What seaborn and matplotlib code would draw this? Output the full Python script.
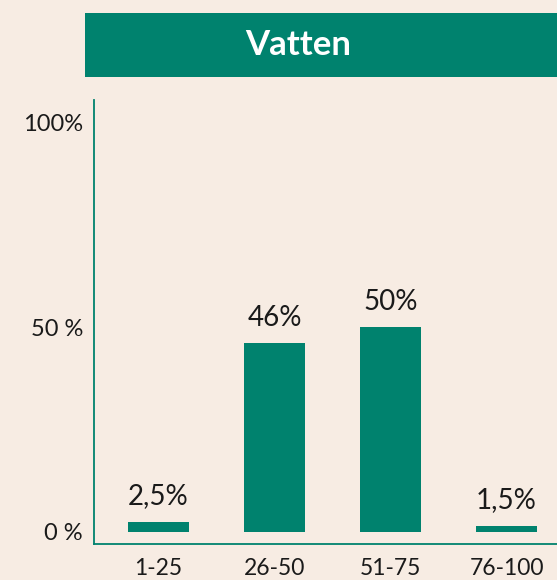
import numpy as np
import pandas as pd
import matplotlib
matplotlib.use("Agg")
import matplotlib.pyplot as plt
import seaborn as sns
from matplotlib.patches import Rectangle

BG = "#F7ECE3"
GREEN = "#00826E"
TEXT = "#1A1A1A"

TITLE = "Vatten"
categories = ["1-25", "26-50", "51-75", "76-100"]
shares = [2.5, 46, 50, 1.5]
ytick_values = [0, 50, 100]
ytick_labels = ["0 %", "50 %", "100%"]

df = pd.DataFrame({"range": categories, "share": shares})

sns.set_theme(style="white")
plt.rcParams["font.family"] = ["Lato", "DejaVu Sans"]

fig = plt.figure(figsize=(5.57, 5.80), dpi=100, facecolor=BG)
W, H = 557, 580

# axes placed in pixel terms of the reference
ax = fig.add_axes([94 / W, 36 / H, (W - 94) / W, 444 / H])
ax.set_facecolor(BG)

sns.barplot(data=df, x="range", y="share", color=GREEN, saturation=1,
            width=0.526, linewidth=0, ax=ax)

ax.set_xlim(-0.556, 3.435)
ax.set_ylim(-2.93, 105.4)

labels = [f"{v:g}".replace(".", ",") + "%" for v in shares]
ax.bar_label(ax.containers[0], labels=labels, padding=9,
             fontsize=20, color=TEXT)

ax.set_yticks(ytick_values)
ax.set_yticklabels(ytick_labels, fontsize=17, color=TEXT)
ax.tick_params(axis="x", labelsize=16.5, colors=TEXT, length=0, pad=10)
ax.tick_params(axis="y", length=0, pad=8)
ax.set_xlabel("")
ax.set_ylabel("")

for side in ["top", "right"]:
    ax.spines[side].set_visible(False)
for side in ["left", "bottom"]:
    ax.spines[side].set_color(GREEN)
    ax.spines[side].set_linewidth(1.3)

# title band
fig.patches.append(Rectangle((85 / W, 1 - 77 / H), (W - 85) / W, 64 / H,
                             transform=fig.transFigure, facecolor=GREEN,
                             edgecolor="none", zorder=0))
fig.text(298 / W, 1 - 45 / H, TITLE, ha="center", va="center",
         fontsize=25, fontweight="bold", color="white")

fig.savefig("out.png", dpi=100, facecolor=BG)
